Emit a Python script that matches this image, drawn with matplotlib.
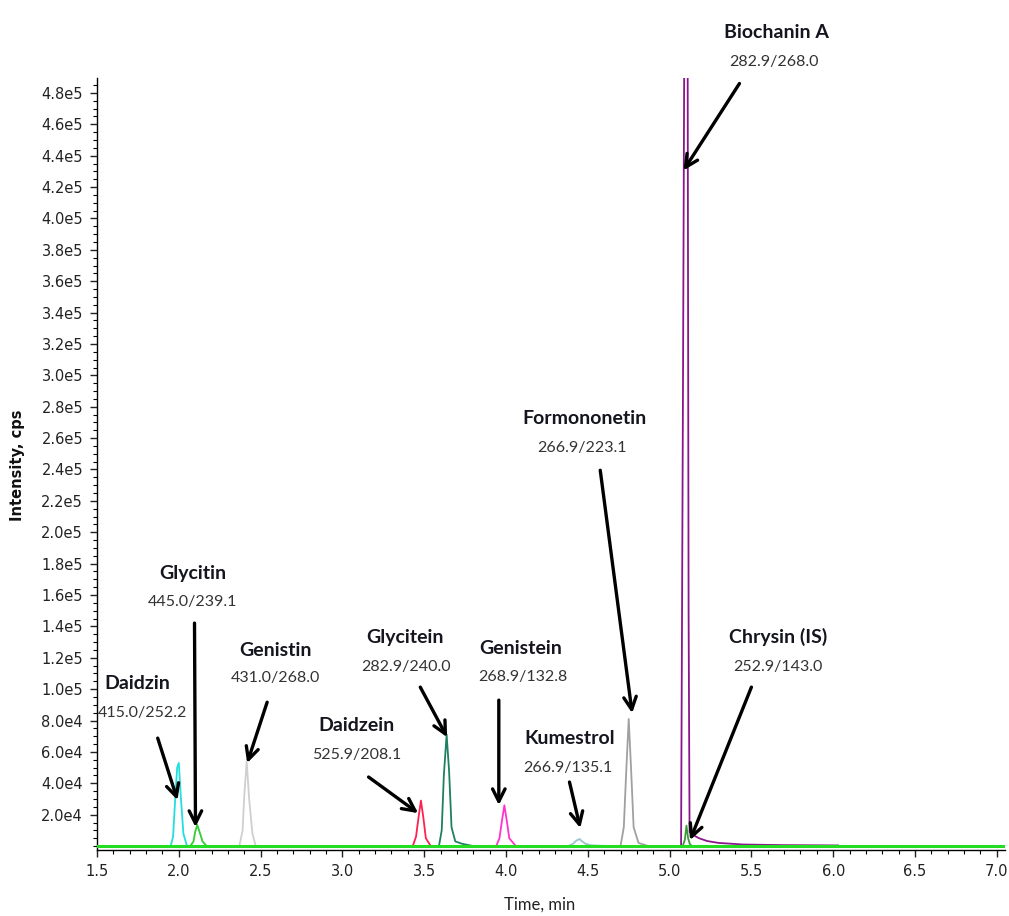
import numpy as np
import matplotlib.pyplot as plt
from matplotlib.ticker import MultipleLocator, FuncFormatter

# chromatogram traces (time in min, intensity in cps)
daidzin_t = [1.95, 1.965, 1.978, 1.99, 2.0, 2.012, 2.028, 2.05]
daidzin_i = [0, 6000, 30000, 50000, 53000, 32000, 8000, 0]

glycitin_t = [2.07, 2.09, 2.10, 2.113, 2.127, 2.145, 2.17]
glycitin_i = [0, 3000, 9000, 13500, 9000, 3000, 0]

genistin_t = [2.37, 2.39, 2.40, 2.415, 2.43, 2.45, 2.47]
genistin_i = [0, 10000, 32000, 54000, 30000, 8000, 0]

daidzein_t = [3.43, 3.45, 3.465, 3.48, 3.495, 3.51, 3.54]
daidzein_i = [0, 6000, 18000, 29000, 18000, 5000, 0]

glycitein_t = [3.59, 3.607, 3.62, 3.637, 3.652, 3.667, 3.69, 3.73, 3.80]
glycitein_i = [0, 10000, 45000, 71000, 48000, 12000, 3000, 1500, 0]

genistein_t = [3.94, 3.96, 3.975, 3.99, 4.005, 4.02, 4.06]
genistein_i = [0, 5000, 16000, 26000, 16000, 5000, 0]

kumestrol_t = [4.38, 4.41, 4.43, 4.45, 4.465, 4.485, 4.52, 4.62]
kumestrol_i = [0, 1500, 3500, 4500, 3000, 1500, 500, 0]

formononetin_t = [4.70, 4.72, 4.735, 4.75, 4.765, 4.78, 4.81, 4.87]
formononetin_i = [0, 12000, 48000, 81000, 48000, 12000, 2000, 0]

biochanin_t = [5.07, 5.082, 5.09, 5.11, 5.116, 5.122, 5.145, 5.18, 5.23, 5.30, 5.45, 5.70, 6.03]
biochanin_i = [0, 300000, 520000, 520000, 150000, 9000, 7000, 5000, 3200, 2000, 1000, 600, 400]

chrysin_t = [5.08, 5.093, 5.103, 5.113, 5.123, 5.135]
chrysin_i = [0, 4000, 13000, 5000, 1500, 0]

traces = [
    (daidzin_t, daidzin_i, '#22dede'),
    (glycitin_t, glycitin_i, '#33cc33'),
    (genistin_t, genistin_i, '#cfcfcf'),
    (daidzein_t, daidzein_i, '#ff2050'),
    (glycitein_t, glycitein_i, '#1f7f62'),
    (genistein_t, genistein_i, '#ff33cc'),
    (kumestrol_t, kumestrol_i, '#99c4cc'),
    (formononetin_t, formononetin_i, '#a0a0a0'),
    (biochanin_t, biochanin_i, '#8b168b'),
    (chrysin_t, chrysin_i, '#3a9a3a'),
]

# labels: name, transition, text centre (t, I), arrow tail, arrow tip
names = ['Biochanin A', 'Formononetin', 'Chrysin (IS)', 'Kumestrol', 'Genistein',
         'Glycitein', 'Daidzein', 'Genistin', 'Glycitin', 'Daidzin']
transitions = ['282.9/268.0', '266.9/223.1', '252.9/143.0', '266.9/135.1', '268.9/132.8',
               '282.9/240.0', '525.9/208.1', '431.0/268.0', '445.0/239.1', '415.0/252.2']
name_pos = [(5.652, 518500), (4.479, 272600), (5.664, 133100), (4.388, 68800), (4.09, 126100),
            (3.384, 133100), (3.087, 77100), (2.594, 124900), (2.084, 173900), (1.749, 103800)]
mz_pos = [(5.64, 499400), (4.467, 253500), (5.664, 114000), (4.375, 49700), (4.102, 107700),
          (3.39, 114000), (3.087, 58000), (2.594, 107000), (2.084, 155400), (1.78, 84700)]
arrow_from = [(5.427, 486000), (4.576, 239500), (5.50, 101300), (4.388, 40800), (3.956, 93000),
              (3.476, 101300), (3.16, 44000), (2.54, 91700), (2.096, 142100), (1.871, 68800)]
arrow_to = [(5.085, 430600), (4.771, 84700), (5.125, 3800), (4.454, 11500), (3.956, 26100),
            (3.64, 69400), (3.463, 21000), (2.418, 52900), (2.102, 12100), (1.992, 29300)]

fig = plt.figure(figsize=(10.09, 9.16), dpi=100, facecolor='white')
ax = fig.add_axes([97/1009, 66/916, 908/1009, 772/916])

for t, i, c in traces:
    ax.plot(t, i, color=c, lw=1.3, zorder=2)
ax.axhline(0, color='#22dd22', lw=2.2, zorder=3)

ax.set_xlim(1.5, 7.05)
ax.set_ylim(-2500, 489500)

def yfmt(v, pos):
    if v < 1e5:
        return '%.1fe4' % (v / 1e4)
    return '%.1fe5' % (v / 1e5)

ax.set_yticks(np.arange(20000, 480001, 20000))
ax.yaxis.set_major_formatter(FuncFormatter(yfmt))
ax.yaxis.set_minor_locator(MultipleLocator(5000))
ax.xaxis.set_major_locator(MultipleLocator(0.5))
ax.xaxis.set_minor_locator(MultipleLocator(0.1))
ax.xaxis.set_major_formatter(FuncFormatter(lambda v, p: '%.1f' % v))
ax.tick_params(axis='both', which='major', direction='out', length=5, width=1,
               labelsize=10.5, colors='#222222', pad=5)
ax.tick_params(axis='both', which='minor', direction='out', length=3, width=0.8)

for s in ['top', 'right']:
    ax.spines[s].set_visible(False)
ax.spines['left'].set_linewidth(1)
ax.spines['bottom'].set_linewidth(1)

fig.text(18/1009, 1 - 465/916, 'Intensity, cps', rotation=90, ha='center', va='center',
         fontsize=10.5, fontweight='bold', color='#111111')
fig.text(540/1009, 1 - 905/916, 'Time, min', ha='center', va='center',
         fontsize=12, family='Lato', color='#222222')

for k in range(len(names)):
    ax.text(name_pos[k][0], name_pos[k][1], names[k], ha='center', va='center',
            fontsize=14, fontweight='bold', family='Lato', color='#15151f', clip_on=False)
    ax.text(mz_pos[k][0], mz_pos[k][1], transitions[k], ha='center', va='center',
            fontsize=11.5, family='Lato', color='#333333', clip_on=False)
    ax.annotate('', xy=arrow_to[k], xytext=arrow_from[k],
                arrowprops=dict(arrowstyle='->,head_length=0.9,head_width=0.45',
                                lw=2.4, color='black', shrinkA=0, shrinkB=0),
                zorder=5, annotation_clip=False)

fig.savefig('out.png', dpi=100)
